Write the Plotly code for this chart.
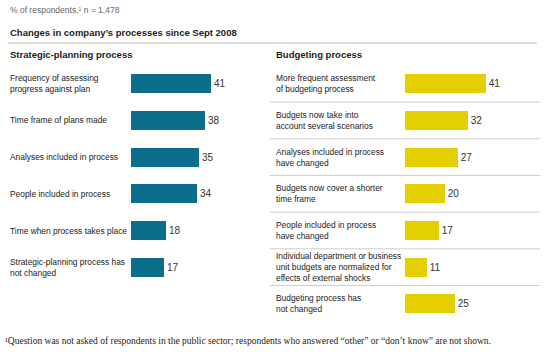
import plotly.graph_objects as go

left_labels = ["Frequency of assessing<br>progress against plan", "Time frame of plans made",
               "Analyses included in process", "People included in process",
               "Time when process takes place", "Strategic-planning process has<br>not changed"]
left_values = [41, 38, 35, 34, 18, 17]

right_labels = ["More frequent assessment<br>of budgeting process",
                "Budgets now take into<br>account several scenarios",
                "Analyses included in process<br>have changed",
                "Budgets now cover a shorter<br>time frame",
                "People included in process<br>have changed",
                "Individual department or business<br>unit budgets are normalized for<br>effects of external shocks",
                "Budgeting process has<br>not changed"]
right_values = [41, 32, 27, 20, 17, 11, 25]

W, H = 545, 354
FONT = "Liberation Sans, Arial, sans-serif"
TEAL = "#0b6e8b"
YELLOW = "#e4cf00"
LS = 8.4  # label font size

row0, step = 83.7, 36.7
y_top = -row0 / step
y_bot = (H - row0) / step

fig = go.Figure()
fig.add_trace(go.Bar(x=left_values, y=list(range(len(left_values))), orientation="h",
                     marker=dict(color=TEAL, line=dict(width=0)), width=0.52,
                     text=left_values, textposition="outside", cliponaxis=False,
                     textfont=dict(family=FONT, size=10, color="#333"),
                     xaxis="x", yaxis="y", hoverinfo="skip"))
fig.add_trace(go.Bar(x=right_values, y=list(range(len(right_values))), orientation="h",
                     marker=dict(color=YELLOW, line=dict(width=0)), width=0.52,
                     text=right_values, textposition="outside", cliponaxis=False,
                     textfont=dict(family=FONT, size=10, color="#333"),
                     xaxis="x2", yaxis="y2", hoverinfo="skip"))

ax_common = dict(showgrid=False, zeroline=False, showticklabels=False, showline=False, ticks="")
fig.update_layout(
    width=W, height=H, margin=dict(l=0, r=0, t=0, b=0),
    paper_bgcolor="white", plot_bgcolor="rgba(0,0,0,0)", showlegend=False,
    xaxis=dict(domain=[131 / W, (131 + 50 * 1.95) / W], range=[0, 50], **ax_common),
    yaxis=dict(domain=[0, 1], range=[y_bot, y_top], anchor="x", **ax_common),
    xaxis2=dict(domain=[404.7 / W, (404.7 + 50 * 1.98) / W], range=[0, 50], anchor="y2", **ax_common),
    yaxis2=dict(domain=[0, 1], range=[y_bot, y_top], anchor="x2", **ax_common),
    bargap=0,
)

ann = []
def px_y(p):
    return 1 - p / H

ann.append(dict(text="% of respondents,¹ n = 1,478", x=8 / W, y=px_y(10), xref="paper", yref="paper",
                xanchor="left", yanchor="middle", showarrow=False,
                font=dict(family=FONT, size=8.5, color="#666")))
ann.append(dict(text="<b>Changes in company’s processes since Sept 2008</b>", x=8 / W, y=px_y(33),
                xref="paper", yref="paper", xanchor="left", yanchor="middle", showarrow=False,
                font=dict(family=FONT, size=9.5, color="#222")))
ann.append(dict(text="<b>Strategic-planning process</b>", x=8 / W, y=px_y(55),
                xref="paper", yref="paper", xanchor="left", yanchor="middle", showarrow=False,
                font=dict(family=FONT, size=9.5, color="#222")))
ann.append(dict(text="<b>Budgeting process</b>", x=274 / W, y=px_y(55),
                xref="paper", yref="paper", xanchor="left", yanchor="middle", showarrow=False,
                font=dict(family=FONT, size=9.5, color="#222")))
for i, lab in enumerate(left_labels):
    ann.append(dict(text=lab, x=8 / W, y=i, xref="paper", yref="y", xanchor="left", yanchor="middle",
                    align="left", showarrow=False, font=dict(family=FONT, size=LS, color="#222")))
for i, lab in enumerate(right_labels):
    ann.append(dict(text=lab, x=274 / W, y=i, xref="paper", yref="y2", xanchor="left", yanchor="middle",
                    align="left", showarrow=False, font=dict(family=FONT, size=LS, color="#222")))
ann.append(dict(text="¹Question was not asked of respondents in the public sector; respondents who answered “other” or “don’t know” are not shown.",
                x=3 / W, y=px_y(341), xref="paper", yref="paper", xanchor="left", yanchor="middle",
                showarrow=False, font=dict(family="Liberation Serif, DejaVu Serif, serif", size=9.5, color="#222")))
fig.update_layout(annotations=ann)

shapes = [dict(type="line", xref="paper", yref="paper", x0=8 / W, x1=537 / W, y0=px_y(43), y1=px_y(43),
               line=dict(color="#bbbbbb", width=1))]
for i in range(len(right_values) - 1):
    shapes.append(dict(type="line", xref="paper", yref="y2", x0=270 / W, x1=540 / W, y0=i + 0.5, y1=i + 0.5,
                       line=dict(color="#cccccc", width=1)))
fig.update_layout(shapes=shapes)

fig.write_html("out.html")
